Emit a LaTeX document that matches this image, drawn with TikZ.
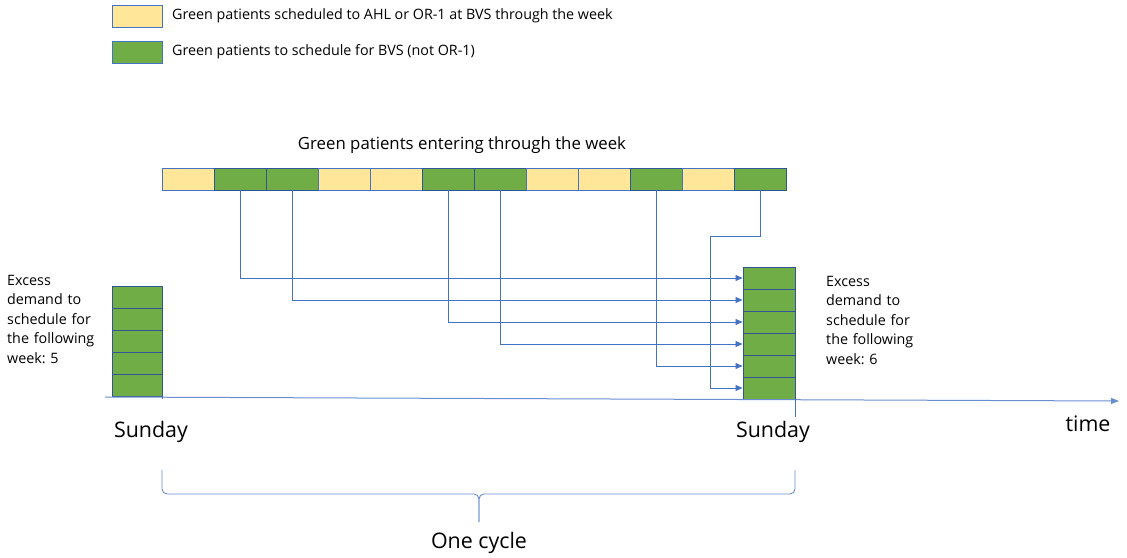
\documentclass[tikz,border=0pt]{standalone}
\usepackage{fontspec}
\setmainfont{Open Sans}
\usetikzlibrary{arrows.meta}

\definecolor{patyellow}{HTML}{FFE699}
\definecolor{patgreen}{HTML}{70AD47}
\definecolor{lineblue}{HTML}{4472C4}
\definecolor{edgeblue}{HTML}{2F5597}

\tikzset{
    yellowcell/.style={draw=lineblue, fill=patyellow, line width=0.9, minimum width=52pt, minimum height=22pt, inner sep=0pt},
    greencell/.style={draw=edgeblue, fill=patgreen, line width=0.9, minimum width=52pt, minimum height=22pt, inner sep=0pt},
    flow/.style={draw=lineblue, line width=0.8, -{Triangle[length=7pt,width=6pt]}},
    label/.style={inner sep=0pt, font=\fontsize{14.3}{19.5}\selectfont, align=left},
    biglabel/.style={inner sep=0pt, font=\fontsize{21.4}{24}\selectfont}
}

\begin{document}
\frenchspacing
\begin{tikzpicture}[x=1pt, y=-1pt]
        \useasboundingbox (0,0) rectangle (1127,557);

        % legend
        \node[yellowcell, minimum width=50pt] (keyyellow) at (137,16) {};
        \node[greencell, minimum width=50pt, draw=lineblue] (keygreen) at (137,52) {};
        \node[label, anchor=west] (keyyellowtext) at (172,16) {Green patients scheduled to AHL or OR-1 at BVS through the week};
        \node[label, anchor=west] (keygreentext) at (172,52) {Green patients to schedule for BVS (not OR-1)};

        % patients entering through the week
        \node[inner sep=0pt, font=\fontsize{16.8}{20}\selectfont] (weektitle) at (462,145) {Green patients entering through the week};

        \node[yellowcell] (c1) at (188,179) {};
        \node[greencell] (c2) at (240,179) {};
        \node[greencell] (c3) at (292,179) {};
        \node[yellowcell] (c4) at (344,179) {};
        \node[yellowcell] (c5) at (396,179) {};
        \node[greencell] (c6) at (448,179) {};
        \node[greencell] (c7) at (500,179) {};
        \node[yellowcell] (c8) at (552,179) {};
        \node[yellowcell] (c9) at (604,179) {};
        \node[greencell] (c10) at (656,179) {};
        \node[yellowcell] (c11) at (708,179) {};
        \node[greencell] (c12) at (760,179) {};

        % excess demand, start of the cycle
        \node[greencell, minimum width=50pt] (l1) at (137,297) {};
        \node[greencell, minimum width=50pt] (l2) at (137,319) {};
        \node[greencell, minimum width=50pt] (l3) at (137,341) {};
        \node[greencell, minimum width=50pt] (l4) at (137,363) {};
        \node[greencell, minimum width=50pt] (l5) at (137,385) {};

        % excess demand, end of the cycle
        \node[greencell] (s1) at (769,278) {};
        \node[greencell] (s2) at (769,300) {};
        \node[greencell] (s3) at (769,322) {};
        \node[greencell] (s4) at (769,344) {};
        \node[greencell] (s5) at (769,366) {};
        \node[greencell] (s6) at (769,388) {};

        \node[label, anchor=north west, text width=110pt] (leftnote) at (7,275) {Excess\\demand to\\schedule for\\the following\\week: 5};
        \node[label, anchor=north west, text width=110pt] (rightnote) at (826,276) {Excess\\demand to\\schedule for\\the following\\week: 6};

        % green patients carried over
        \coordinate (bend) at (710,236);
        \draw[flow] (c2.south) |- (s1.west);
        \draw[flow] (c3.south) |- (s2.west);
        \draw[flow] (c6.south) |- (s3.west);
        \draw[flow] (c7.south) |- (s4.west);
        \draw[flow] (c10.south) |- (s5.west);
        \draw[flow] (c12.south) |- (bend) |- (s6.west);

        % time axis
        \coordinate (axisstart) at (105,397);
        \coordinate (axisend) at (1119,401);
        \draw[draw=lineblue!80, line width=1, -{Triangle[length=8pt,width=6pt]}] (axisstart) -- (axisend);
        \draw[draw=lineblue, line width=0.8] (l5.south east) -- ++(0,3);
        \draw[draw=lineblue, line width=0.8] (s6.south east) -- ++(0,18);

        \node[biglabel] (sunleft) at (151,432) {Sunday};
        \node[biglabel] (sunright) at (773,432) {Sunday};
        \node[biglabel] (timelabel) at (1088,424) {time};

        % one cycle
        \draw[draw=lineblue!80, line width=0.9, rounded corners=5pt] (162,470) -- (162,494) -- (479,494) -- (479,522);
        \draw[draw=lineblue!80, line width=0.9, rounded corners=5pt] (795,470) -- (795,494) -- (479,494) -- (479,522);
        \node[biglabel] (cyclelabel) at (479,543) {One cycle};
    \end{tikzpicture}
\end{document}
